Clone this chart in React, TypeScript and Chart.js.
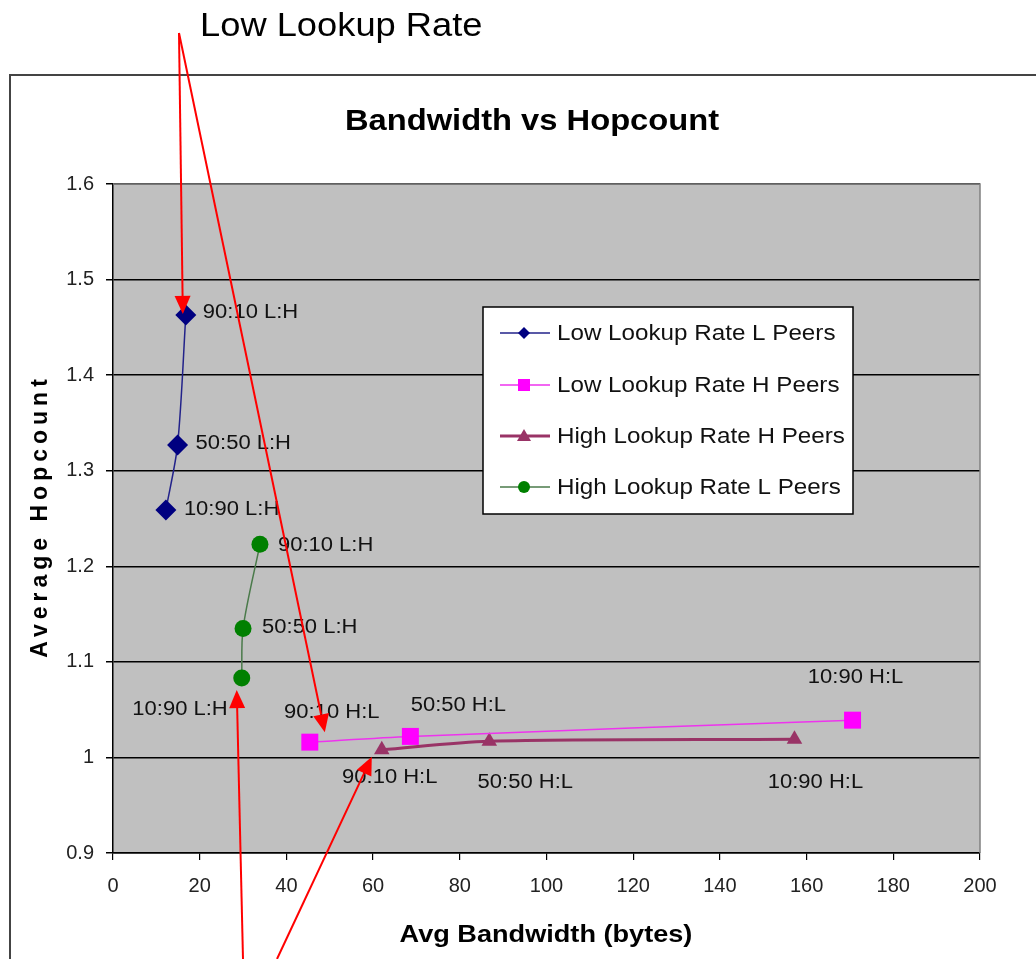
import React, { useEffect, useRef } from "react";
import { Chart, registerables } from "chart.js";

Chart.register(...registerables);

// ---- data ----
const ratios = ["90:10", "50:50", "10:90"];
const seriesNames = [
  "Low Lookup Rate L Peers",
  "Low Lookup Rate H Peers",
  "High Lookup Rate H Peers",
  "High Lookup Rate L Peers",
];
const seriesSuffix = ["L:H", "H:L", "H:L", "L:H"];

const lowL_x = [16.8, 14.9, 12.2];
const lowL_y = [1.463, 1.327, 1.259];
const lowH_x = [45.4, 68.6, 170.6];
const lowH_y = [1.016, 1.022, 1.039];
const highH_x = [62.0, 86.8, 157.2];
const highH_y = [1.008, 1.017, 1.019];
const highL_x = [33.9, 30.0, 29.7];
const highL_y = [1.223, 1.135, 1.083];

const xMin = 0;
const xMax = 200;
const xStep = 20;
const yMin = 0.9;
const yMax = 1.6;
const yStep = 0.1;

const chartTitle = "Bandwidth vs Hopcount";
const xTitle = "Avg Bandwidth (bytes)";
const yTitle = "Average Hopcount";
const annotationText = "Low Lookup Rate";

// ---- styles ----
const FONT = "'Liberation Sans', Arial, sans-serif";
const colors = ["#000080", "#FF00FF", "#993366", "#008000"];
const lineColors = ["#22228a", "#ee33ee", "#993366", "#4a7a4a"];
const lineWidths = [1.5, 1.5, 3, 1.5];
const pointStyles = ["rectRot", "rect", "triangle", "circle"];
const pointRadii = [10.5, 12, 9, 8.5];

// label offsets (px) relative to each point: [dx, dy, align]
const labelOffsets: [number, number, CanvasTextAlign][][] = [
  [[17, -2, "left"], [18, -1, "left"], [18, 0, "left"]],
  [[22, -30, "center"], [48, -31, "center"], [3, -43, "center"]],
  [[8, 28, "center"], [36, 41, "center"], [21, 43, "center"]],
  [[18, 1, "left"], [19, -1, "left"], [-14, 31, "right"]],
];

function pts(xs: number[], ys: number[]) {
  return xs.map((x, i) => ({ x, y: ys[i] }));
}

function drawText(
  ctx: CanvasRenderingContext2D,
  s: string,
  x: number,
  y: number,
  font: string,
  align: CanvasTextAlign,
  sx: number,
  baseline: CanvasTextBaseline = "middle",
  color = "#000"
) {
  ctx.save();
  ctx.translate(x, y);
  ctx.scale(sx, 1);
  ctx.font = font;
  ctx.textAlign = align;
  ctx.textBaseline = baseline;
  ctx.fillStyle = color;
  ctx.fillText(s, 0, 0);
  ctx.restore();
}

function drawArrow(ctx: CanvasRenderingContext2D, x1: number, y1: number, x2: number, y2: number) {
  const a = Math.atan2(y2 - y1, x2 - x1);
  const L = 18;
  const W = 8;
  const bx = x2 - L * Math.cos(a);
  const by = y2 - L * Math.sin(a);
  ctx.save();
  ctx.strokeStyle = "#FF0000";
  ctx.fillStyle = "#FF0000";
  ctx.lineWidth = 2;
  ctx.beginPath();
  ctx.moveTo(x1, y1);
  ctx.lineTo(bx, by);
  ctx.stroke();
  ctx.beginPath();
  ctx.moveTo(x2, y2);
  ctx.lineTo(bx - W * Math.sin(a), by + W * Math.cos(a));
  ctx.lineTo(bx + W * Math.sin(a), by - W * Math.cos(a));
  ctx.closePath();
  ctx.fill();
  ctx.restore();
}

function drawMarker(ctx: CanvasRenderingContext2D, style: string, x: number, y: number, r: number, color: string) {
  ctx.save();
  ctx.fillStyle = color;
  ctx.beginPath();
  if (style === "rectRot") {
    ctx.moveTo(x, y - r);
    ctx.lineTo(x + r, y);
    ctx.lineTo(x, y + r);
    ctx.lineTo(x - r, y);
  } else if (style === "rect") {
    ctx.rect(x - r, y - r, 2 * r, 2 * r);
  } else if (style === "triangle") {
    ctx.moveTo(x, y - r);
    ctx.lineTo(x + r, y + r * 0.7);
    ctx.lineTo(x - r, y + r * 0.7);
  } else {
    ctx.arc(x, y, r, 0, Math.PI * 2);
  }
  ctx.closePath();
  ctx.fill();
  ctx.restore();
}

const decorPlugin = {
  id: "decor",
  beforeDraw(chart: any) {
    const { ctx, chartArea } = chart;
    ctx.save();
    // outer frame
    ctx.strokeStyle = "#444";
    ctx.lineWidth = 2;
    ctx.beginPath();
    ctx.moveTo(10, 959);
    ctx.lineTo(10, 75);
    ctx.lineTo(1036, 75);
    ctx.stroke();
    // plot background
    ctx.fillStyle = "#C0C0C0";
    ctx.fillRect(chartArea.left, chartArea.top, chartArea.right - chartArea.left, chartArea.bottom - chartArea.top);
    ctx.restore();
  },
  beforeDatasetsDraw(chart: any) {
    const { ctx, chartArea } = chart;
    ctx.save();
    ctx.strokeStyle = "#808080";
    ctx.lineWidth = 1.5;
    ctx.beginPath();
    ctx.moveTo(chartArea.left, chartArea.top);
    ctx.lineTo(chartArea.right, chartArea.top);
    ctx.lineTo(chartArea.right, chartArea.bottom);
    ctx.stroke();
    ctx.restore();
  },
  afterDatasetsDraw(chart: any) {
    const { ctx } = chart;
    // data labels
    chart.data.datasets.forEach((ds: any, di: number) => {
      const meta = chart.getDatasetMeta(di);
      meta.data.forEach((el: any, i: number) => {
        const [dx, dy, align] = labelOffsets[di][i];
        drawText(ctx, ratios[i] + " " + seriesSuffix[di], el.x + dx, el.y + dy, `20px ${FONT}`, align, 1.1, "middle", "#111");
      });
    });
    // legend
    ctx.save();
    const lx = 483, ly = 307, lw = 370, lh = 207;
    ctx.fillStyle = "#FFFFFF";
    ctx.fillRect(lx, ly, lw, lh);
    ctx.strokeStyle = "#000";
    ctx.lineWidth = 1.5;
    ctx.strokeRect(lx, ly, lw, lh);
    const rowY = [333, 385, 436, 487];
    const legR = [6, 6, 7, 6];
    seriesNames.forEach((name, i) => {
      const y = rowY[i];
      ctx.strokeStyle = lineColors[i];
      ctx.lineWidth = lineWidths[i];
      ctx.beginPath();
      ctx.moveTo(500, y);
      ctx.lineTo(550, y);
      ctx.stroke();
      drawMarker(ctx, pointStyles[i], 524, y, legR[i], colors[i]);
      drawText(ctx, name, 557, y + 1, `22px ${FONT}`, "left", 1.1, "middle", "#111");
    });
    ctx.restore();
  },
  afterDraw(chart: any) {
    const { ctx } = chart;
    // title
    drawText(ctx, chartTitle, 532, 130, `bold 30px ${FONT}`, "center", 1.09, "alphabetic");
    // x title
    drawText(ctx, xTitle, 546, 942, `bold 24px ${FONT}`, "center", 1.13, "alphabetic");
    // y title
    ctx.save();
    ctx.translate(47, 516);
    ctx.rotate(-Math.PI / 2);
    ctx.font = `bold 23px ${FONT}`;
    (ctx as any).letterSpacing = "5px";
    ctx.textAlign = "center";
    ctx.textBaseline = "alphabetic";
    ctx.fillStyle = "#000";
    ctx.fillText(yTitle, 0, 0);
    ctx.restore();
    // annotation
    drawText(ctx, annotationText, 200, 36, `33px ${FONT}`, "left", 1.1, "alphabetic");
    // arrows anchored to data points
    const p = (di: number, i: number) => chart.getDatasetMeta(di).data[i];
    const b = p(0, 0), m = p(1, 0), g = p(3, 2), t = p(2, 0);
    drawArrow(ctx, 179, 33, b.x - 3, b.y - 1);
    drawArrow(ctx, 179, 33, m.x + 15, m.y - 10);
    drawArrow(ctx, 243, 959, g.x - 5, g.y + 12);
    drawArrow(ctx, 277, 959, t.x - 10, t.y + 7);
  },
};

export default function App() {
  const ref = useRef<HTMLCanvasElement>(null);
  useEffect(() => {
    const canvas = ref.current!;
    const seriesData = [pts(lowL_x, lowL_y), pts(lowH_x, lowH_y), pts(highH_x, highH_y), pts(highL_x, highL_y)];
    const chart = new Chart(canvas, {
      type: "line",
      data: {
        datasets: seriesData.map((d, i) => ({
          label: seriesNames[i],
          data: d,
          borderColor: lineColors[i],
          backgroundColor: colors[i],
          borderWidth: lineWidths[i],
          pointStyle: pointStyles[i] as any,
          pointRadius: pointRadii[i],
          pointBackgroundColor: colors[i],
          pointBorderColor: colors[i],
          pointBorderWidth: 0,
          tension: 0.3,
          fill: false,
        })),
      },
      options: {
        responsive: false,
        animation: false,
        events: [],
        layout: { padding: { top: 184, left: 0, right: 56, bottom: 0 } },
        plugins: {
          legend: { display: false },
          title: { display: false },
          tooltip: { enabled: false },
        },
        scales: {
          x: {
            type: "linear",
            min: xMin,
            max: xMax,
            afterFit: (s: any) => {
              s.height = 106;
            },
            ticks: {
              stepSize: xStep,
              autoSkip: false,
              maxRotation: 0,
              padding: 14,
              color: "#222",
              font: { family: FONT, size: 20 },
            },
            grid: { drawOnChartArea: false, color: "#000", tickLength: 7, lineWidth: 1.2 },
            border: { color: "#000", width: 1.5 },
          },
          y: {
            type: "linear",
            min: yMin,
            max: yMax,
            afterFit: (s: any) => {
              s.width = 113;
            },
            ticks: {
              stepSize: yStep,
              padding: 12,
              color: "#222",
              font: { family: FONT, size: 20 },
              callback: (v: any) => String(Math.round(Number(v) * 10) / 10),
            },
            grid: { color: "#000", tickLength: 7, lineWidth: 1.5 },
            border: { color: "#000", width: 1.5 },
          },
        },
      },
      plugins: [decorPlugin],
    });
    return () => chart.destroy();
  }, []);
  return (
    <div style={{ position: "absolute", left: 0, top: 0, width: 1036, height: 959 }}>
      <canvas ref={ref} width={1036} height={959} style={{ display: "block" }} />
    </div>
  );
}
